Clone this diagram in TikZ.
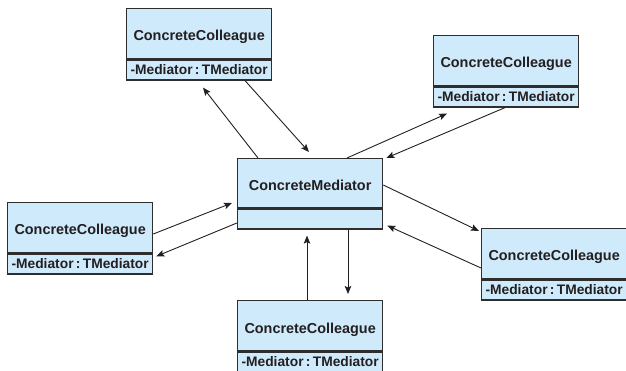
\documentclass[tikz,border=0pt]{standalone}
\usepackage{fontspec}
\setmainfont{Liberation Sans}
\usetikzlibrary{arrows.meta}
\definecolor{boxfill}{HTML}{CFEAFB}
\definecolor{boxline}{HTML}{2E2E2E}
\definecolor{ink}{HTML}{231F20}
\tikzset{
  upper/.style={draw=boxline, fill=boxfill, line width=1.3pt, rectangle,
    minimum width=145pt, minimum height=50pt, inner sep=0pt, anchor=north west},
  lower/.style={draw=boxline, fill=boxfill, line width=1.3pt, rectangle,
    minimum width=145pt, minimum height=20pt, inner sep=0pt, anchor=north,
    text=ink, font=\bfseries\fontsize{13.8}{14}\selectfont,
    text height=10pt, text depth=0pt},
  title/.style={anchor=base, inner sep=0pt, text=ink,
    font=\bfseries\fontsize{14.4}{16}\selectfont},
  link/.style={draw=ink, line width=0.9pt,
    -{Stealth[length=8pt,width=6.5pt,inset=1.5pt]}}
}
\newcommand\colleaguebox[3]{%
  \node[upper] (#1) at (#2,#3) {};
  \node[title] (#1t) at ([yshift=-33pt]#1.north) {ConcreteColleague};
  \node[lower] (#1a) at (#1.south) {-Mediator\,:\,TMediator};
}
\begin{document}
\begin{tikzpicture}[x=1pt,y=-1pt]
\useasboundingbox (0,0) rectangle (626,371);
\begin{scope}
\clip (0,0) rectangle (626,371);
% colleagues
\colleaguebox{tl}{126}{8}
\colleaguebox{tr}{433}{35}
\colleaguebox{lf}{7}{202}
\colleaguebox{rt}{481}{228}
\colleaguebox{bt}{237}{300}
% mediator
\node[upper, minimum height=49pt] (med) at (237,158) {};
\node[title] (medt) at ([yshift=-33pt]med.north) {ConcreteMediator};
\node[lower] (meda) at (med.south) {};
\end{scope}
% connectors
\draw[link] ([xshift=21pt]med.north west) -- ([shift={(77pt,-7pt)}]tla.south west);
\draw[link] ([xshift=119pt]tla.south west) -- ([shift={(72pt,6pt)}]med.north west);
\draw[link] ([xshift=110pt]med.north west) -- ([shift={(14pt,-6pt)}]tra.south west);
\draw[link] ([xshift=72pt]tra.south west) -- ([shift={(3pt,0pt)}]med.north east);
\draw[link] ([yshift=-32pt]lf.north east) -- ([shift={(-5pt,-45pt)}]med.north west);
\draw[link] ([yshift=-4pt]meda.west) -- ([shift={(3pt,-3pt)}]lfa.north east);
\draw[link] ([yshift=-27pt]med.north east) -- ([shift={(-2pt,-3pt)}]rt.north west);
\draw[link] ([yshift=-40pt]rt.north west) -- ([shift={(4pt,4pt)}]meda.south east);
\draw[link] ([xshift=70pt]bt.north west) -- ([shift={(70pt,-6pt)}]meda.south west);
\draw[link] ([xshift=111pt]meda.south west) -- ([shift={(111pt,6pt)}]bt.north west);
\end{tikzpicture}
\end{document}
